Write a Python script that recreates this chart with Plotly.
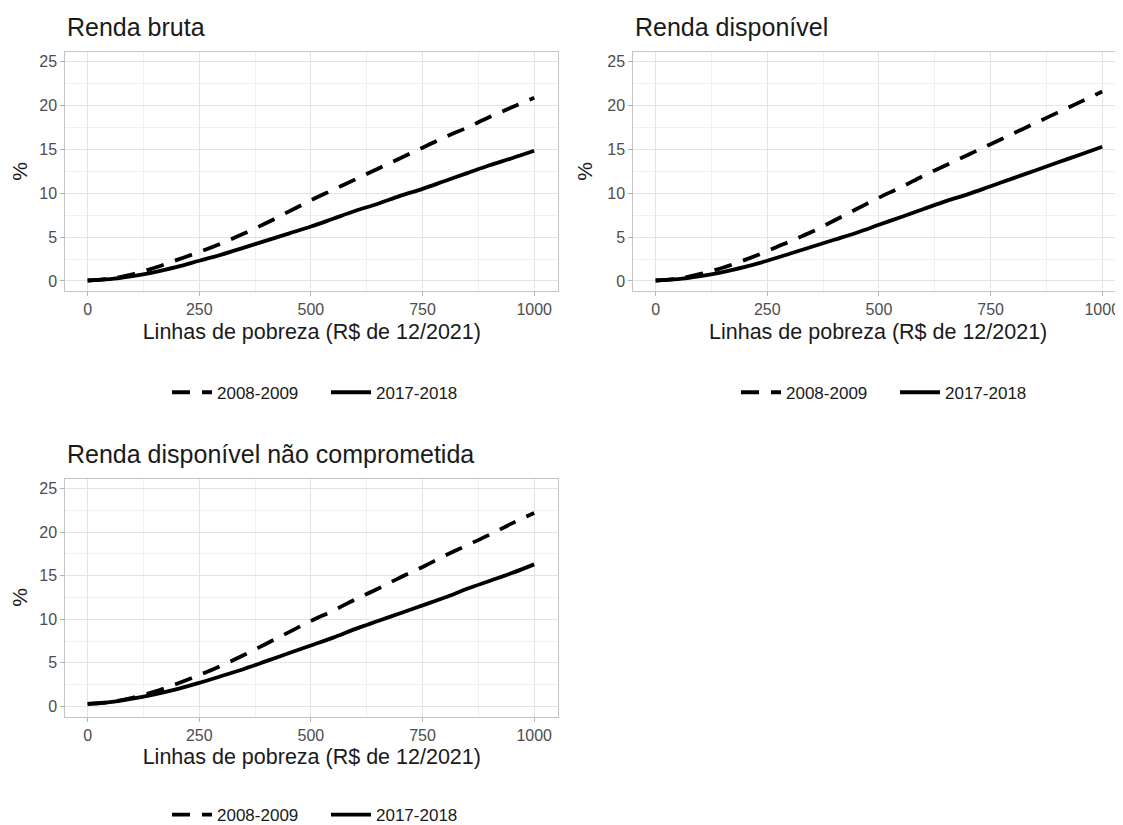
import plotly.graph_objects as go

# ---- data ----
linhas = [0, 50, 100, 150, 200, 250, 300, 350, 400, 450, 500,
          550, 600, 650, 700, 750, 800, 850, 900, 950, 1000]

bruta_2008 = [0.05, 0.25, 0.75, 1.5, 2.4, 3.3, 4.3, 5.4, 6.6, 7.9, 9.2,
              10.4, 11.6, 12.8, 14.0, 15.2, 16.4, 17.5, 18.7, 19.8, 20.9]
bruta_2017 = [0.05, 0.2, 0.55, 1.0, 1.6, 2.3, 3.0, 3.8, 4.6, 5.4, 6.2,
              7.1, 8.0, 8.8, 9.7, 10.5, 11.4, 12.3, 13.2, 14.0, 14.85]

disp_2008 = [0.05, 0.25, 0.8, 1.5, 2.4, 3.4, 4.5, 5.6, 6.9, 8.2, 9.5,
             10.7, 12.0, 13.2, 14.4, 15.6, 16.8, 18.0, 19.2, 20.4, 21.6]
disp_2017 = [0.05, 0.2, 0.55, 1.0, 1.6, 2.3, 3.1, 3.9, 4.7, 5.5, 6.4,
             7.3, 8.2, 9.1, 9.9, 10.8, 11.7, 12.6, 13.5, 14.4, 15.3]

nc_2008 = [0.3, 0.5, 1.0, 1.7, 2.6, 3.6, 4.7, 5.9, 7.2, 8.5, 9.8,
           11.0, 12.3, 13.5, 14.8, 16.0, 17.3, 18.5, 19.7, 21.0, 22.2]
nc_2017 = [0.3, 0.5, 0.9, 1.4, 2.0, 2.7, 3.5, 4.3, 5.2, 6.1, 7.0,
           7.9, 8.9, 9.8, 10.7, 11.6, 12.5, 13.5, 14.4, 15.3, 16.3]

titulos = ["Renda bruta", "Renda disponível", "Renda disponível não comprometida"]
series_nomes = ["2008-2009", "2017-2018"]
x_ticks = [0, 250, 500, 750, 1000]
y_ticks = [0, 5, 10, 15, 20, 25]
x_title = "Linhas de pobreza (R$ de 12/2021)"
y_title = "%"

# the page body has an 8px margin, so the figure is drawn 8px in from the corner
OFF = 8
W, H = 1123 - OFF, 825 - OFF
FONT = "Liberation Sans, Arial, sans-serif"


def px(x):
    return (x - OFF) / W


def py(y):
    return 1 - (y - OFF) / H


panels = [
    dict(y08=bruta_2008, y17=bruta_2017, title=titulos[0],
         xd=[px(65.3), px(558.3)], yd=[py(291), py(51.7)],
         xr=[-50, 1054], legx=px(326), legy=py(392.7), leg="legend"),
    dict(y08=disp_2008, y17=disp_2017, title=titulos[1],
         xd=[px(633.3), 1.0], yd=[py(291), py(51.7)],
         xr=[-50, 1046.5], legx=px(895), legy=py(392.7), leg="legend2"),
    dict(y08=nc_2008, y17=nc_2017, title=titulos[2],
         xd=[px(65.3), px(558.3)], yd=[py(716.5), py(478.5)],
         xr=[-50, 1054], legx=px(326), legy=py(815), leg="legend3"),
]

fig = go.Figure()
layout = dict(
    width=W, height=H,
    margin=dict(l=0, r=0, t=0, b=0, autoexpand=False),
    paper_bgcolor="white", plot_bgcolor="white",
    font=dict(family=FONT, color="#1a1a1a"),
    annotations=[],
)

for i, p in enumerate(panels):
    n = "" if i == 0 else str(i + 1)
    xa, ya = "x" + n, "y" + n
    fig.add_trace(go.Scatter(
        x=linhas, y=p["y08"], mode="lines", name=series_nomes[0],
        line=dict(color="black", width=3.8, dash="18px,12px", shape="spline"),
        xaxis=xa, yaxis=ya, legend=p["leg"], showlegend=True))
    fig.add_trace(go.Scatter(
        x=linhas, y=p["y17"], mode="lines", name=series_nomes[1],
        line=dict(color="black", width=3.8, shape="spline"),
        xaxis=xa, yaxis=ya, legend=p["leg"], showlegend=True))

    layout["xaxis" + n] = dict(
        domain=p["xd"], range=p["xr"], anchor=ya, automargin=False,
        tickvals=x_ticks, ticks="outside", ticklen=4, tickcolor="#b3b3b3",
        tickfont=dict(size=16, color="#4d4d4d"),
        showgrid=True, gridcolor="#e3e3e3", gridwidth=1,
        minor=dict(showgrid=True, dtick=125, tick0=0, gridcolor="#f0f0f0", gridwidth=1),
        zeroline=False, showline=True, mirror=True, linecolor="#c4c4c4", linewidth=1,
        title=dict(text=x_title, font=dict(size=21.5, color="#1a1a1a"), standoff=6),
    )
    layout["yaxis" + n] = dict(
        domain=p["yd"], range=[-1.15, 26.15], anchor=xa, automargin=False,
        tickvals=y_ticks, ticks="outside", ticklen=4, tickcolor="#b3b3b3",
        tickfont=dict(size=16, color="#4d4d4d"),
        showgrid=True, gridcolor="#e3e3e3", gridwidth=1,
        minor=dict(showgrid=True, dtick=2.5, tick0=0, gridcolor="#f0f0f0", gridwidth=1),
        zeroline=False, showline=True, mirror=True, linecolor="#c4c4c4", linewidth=1,
        title=dict(text=y_title, font=dict(size=21, color="#1a1a1a"), standoff=8),
    )
    layout[p["leg"]] = dict(
        orientation="h", x=p["legx"], xanchor="center", y=p["legy"], yanchor="middle",
        font=dict(size=17, color="#1a1a1a"), bgcolor="rgba(0,0,0,0)",
        itemwidth=40, tracegroupgap=0, entrywidth=104,
    )
    layout["annotations"].append(dict(
        text=p["title"], xref="paper", yref="paper",
        x=p["xd"][0], y=p["yd"][1] + 9 / H, xanchor="left", yanchor="bottom",
        showarrow=False, font=dict(size=25, color="#1a1a1a"),
    ))

fig.update_layout(**layout)
fig.write_html("out.html")
